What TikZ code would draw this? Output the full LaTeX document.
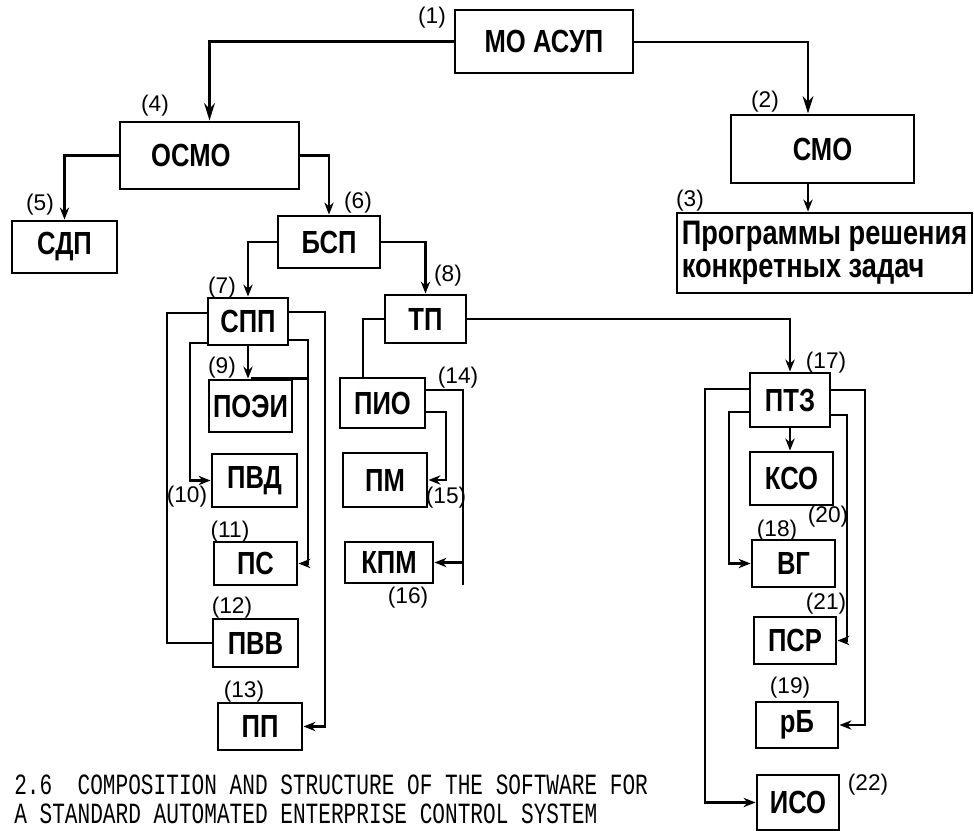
\documentclass[tikz,border=0pt]{standalone}
\usepackage{fontspec}
\setmainfont{Liberation Sans}
\newfontfamily\hw[FakeStretch=0.8]{Liberation Sans}
\newfontfamily\capfont[FakeStretch=0.72]{Liberation Mono}
\usetikzlibrary{arrows.meta}
\tikzset{
  bx/.style={draw,line width=2.2pt,inner sep=0pt,font=\hw\bfseries\fontsize{24}{27}\selectfont},
  conn/.style={line width=2.2pt},
  arr/.style={conn,-{Stealth[length=9pt,width=7pt]}},
  bigarr/.style={conn,-{Stealth[length=13pt,width=8pt]}},
  num/.style={inner sep=0pt,font=\fontsize{17}{18}\selectfont},
}
\newcommand\mkbox[6]{\node[bx,minimum width={(#4-#2)*0.75pt},minimum height={(#5-#3)*0.75pt}] (#1) at ({(#2+#4)/2},{(#3+#5)/2}) {#6};}
\begin{document}
\begin{tikzpicture}[x=0.75pt,y=-0.75pt]
\useasboundingbox[fill=white] (0,0) rectangle (974,831);
% boxes
\mkbox{mo}{455}{10}{633}{73}{МО АСУП}
\mkbox{osmo}{120}{122}{299}{189}{ОСМО\hspace*{28pt}}
\mkbox{smo}{731}{115}{914}{183}{СМО}
\node[bx,minimum width={295*0.75pt},minimum height={80*0.75pt},align=left,font=\hw\bfseries\fontsize{25.5}{25}\selectfont] (p3) at (824.5,253) {Программы решения\\конкретных задач};
\mkbox{sdp}{12}{221}{117}{273}{СДП}
\mkbox{bsp}{278}{216}{380}{268}{БСП}
\mkbox{spp}{208}{298}{288}{345}{СПП}
\mkbox{tp}{385}{295}{466}{343}{ТП}
\mkbox{poei}{209}{380}{292}{432}{ПОЭИ}
\mkbox{pvd}{212}{454}{297}{507}{ПВД}
\mkbox{ps}{214}{542}{297}{585}{ПС}
\mkbox{pvv}{213}{619}{298}{667}{ПВВ}
\mkbox{pp}{218}{703}{302}{750}{ПП}
\mkbox{pio}{340}{378}{425}{428}{ПИО}
\mkbox{pm}{343}{453}{427}{507}{ПМ}
\mkbox{kpm}{345}{542}{433}{583}{КПМ}
\mkbox{ptz}{750}{373}{830}{427}{ПТЗ}
\mkbox{kso}{750}{452}{833}{505}{КСО}
\mkbox{vg}{752}{540}{835}{587}{ВГ}
\mkbox{psr}{754}{617}{836}{664}{ПСР}
\mkbox{rb}{756}{702}{838}{748}{рБ}
\mkbox{iso}{757}{775}{839}{830}{ИСО}
% number labels
\node[num] (l1) at (432,18) {(1)};
\node[num] (l2) at (765,102) {(2)};
\node[num] (l3) at (690,201) {(3)};
\node[num] (l4) at (155,106) {(4)};
\node[num] (l5) at (40,205) {(5)};
\node[num] (l6) at (358,203) {(6)};
\node[num] (l7) at (222,288) {(7)};
\node[num] (l8) at (448,276) {(8)};
\node[num] (l9) at (222,368) {(9)};
\node[num] (l10) at (187,497) {(10)};
\node[num] (l11) at (230,532) {(11)};
\node[num] (l12) at (232,608) {(12)};
\node[num] (l13) at (244,692) {(13)};
\node[num] (l14) at (458,378) {(14)};
\node[num] (l15) at (446,498) {(15)};
\node[num] (l16) at (408,598) {(16)};
\node[num] (l17) at (826,363) {(17)};
\node[num] (l18) at (777,531) {(18)};
\node[num] (l19) at (790,688) {(19)};
\node[num] (l20) at (828,517) {(20)};
\node[num] (l21) at (826,604) {(21)};
\node[num] (l22) at (868,785) {(22)};
% caption
\node[anchor=south west,inner sep=0pt,font=\capfont\fontsize{22}{22}\selectfont,align=left] (cap) at (14,824) {2.6\ \ COMPOSITION AND STRUCTURE OF THE SOFTWARE FOR\\A STANDARD AUTOMATED ENTERPRISE CONTROL SYSTEM};
% helper coordinates
\coordinate (k2) at (808,42);
\coordinate (k9) at (363,0);
\coordinate (k10) at (463,390);
\coordinate (k10b) at (463,585);
\coordinate (k11) at (446,412);
\coordinate (k13) at (308,340);
\coordinate (k14) at (325,312);
\coordinate (k15) at (167,313);
\coordinate (k16) at (190,343);
\coordinate (k18) at (729,412);
\coordinate (k19) at (705,389);
\coordinate (k20) at (847,415);
\coordinate (k21) at (865,390);
% connectors
\draw[bigarr] (mo.west) -| (osmo.north);
\draw[bigarr] (mo.east |- k2) -- (k2) -- (smo.north -| k2);
\draw[arr] (smo.south -| k2) -- (p3.north -| k2);
\draw[arr] (osmo.west) -| (sdp.north);
\draw[arr] (osmo.east) -| (bsp.north);
\draw[arr] (bsp.west) -| (spp.north);
\draw[arr] (bsp.east) -| (tp.north);
\draw[arr] (tp.east) -| (ptz.north);
\draw[conn] (tp.west) -| (pio.north -| k9);
\draw[conn] (pio.east |- k10) -- (k10) -- (k10b);
\draw[arr] (k10 |- kpm.east) -- (kpm.east);
\draw[arr] (pio.east |- k11) -- (k11) |- (pm.east);
\draw[arr] (spp.south) -- (spp.south |- poei.north);
\draw[arr] (spp.east |- k13) -- (k13) |- (ps.east);
\draw[conn] (poei.north) -- (poei.north -| k13);
\draw[arr] (spp.east |- k14) -- (k14) |- (pp.east);
\draw[conn] (spp.west |- k15) -- (k15) |- (pvv.west);
\draw[arr] (spp.west |- k16) -- (k16) |- (pvd.west);
\draw[arr] (ptz.south) -- (ptz.south |- kso.north);
\draw[arr] (ptz.west |- k18) -- (k18) |- (vg.west);
\draw[arr] (ptz.west |- k19) -- (k19) |- (iso.west);
\draw[arr] (ptz.east |- k20) -- (k20) |- (psr.east);
\draw[arr] (ptz.east |- k21) -- (k21) |- (rb.east);
\end{tikzpicture}
\end{document}
